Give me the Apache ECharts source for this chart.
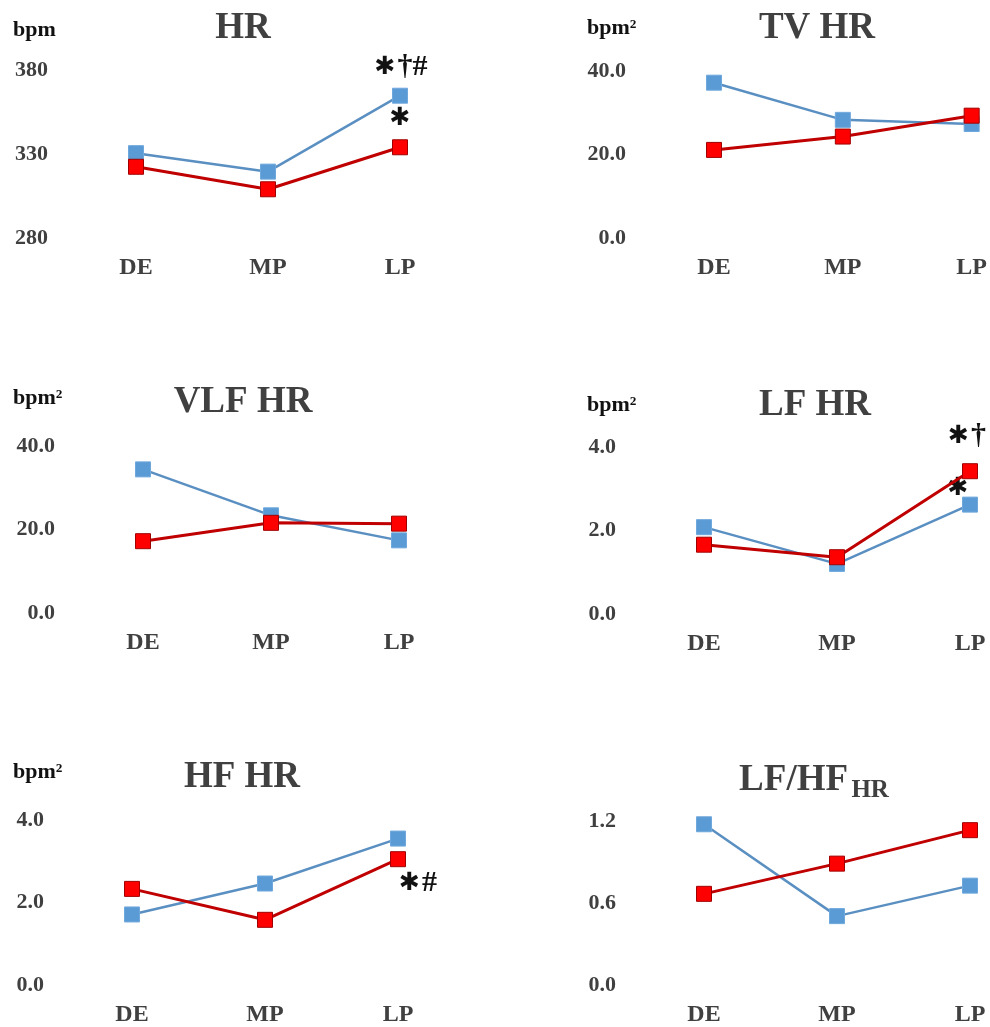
<!DOCTYPE html>
<html>
<head>
<meta charset="utf-8">
<title>Heart rate variability by phase</title>
<script src="https://cdn.jsdelivr.net/npm/echarts@6/dist/echarts.min.js"></script>
<style>
  html, body { margin: 0; padding: 0; background: #fff; }
  #chart { width: 990px; height: 1027px; }
</style>
</head>
<body>
<div id="chart"></div>
<script>
// Phases on the x axis
const categories = ['DE', 'MP', 'LP'];

// HR (bpm)
const hrBlue = [330.5, 319.5, 364.7];
const hrRed = [322.4, 309, 334];
const hrTicks = [280, 380, 50];

// TV HR (bpm²)
const tvBlue = [37.2, 28.3, 27.3];
const tvRed = [21.1, 24.3, 29.3];
const tvTicks = [0, 40, 20];

// VLF HR (bpm²)
const vlfBlue = [34.4, 23.4, 17.4];
const vlfRed = [17.2, 21.6, 21.4];
const vlfTicks = [0, 40, 20];

// LF HR (bpm²)
const lfBlue = [2.08, 1.2, 2.62];
const lfRed = [1.66, 1.36, 3.42];
const lfTicks = [0, 4, 2];

// HF HR (bpm²)
const hfBlue = [1.71, 2.46, 3.55];
const hfRed = [2.33, 1.58, 3.05];
const hfTicks = [0, 4, 2];

// LF/HF HR ratio
const ratioBlue = [1.176, 0.504, 0.727];
const ratioRed = [0.667, 0.888, 1.133];
const ratioTicks = [0, 1.2, 0.6];

// Significance marks at LP: [panel, series colour, marks after the asterisk]
const marks = [
  [0, 'blue', '†#'],
  [0, 'red', ''],
  [3, 'red', '†'],
  [3, 'blue', ''],
  [4, 'red', '#']
];

const SERIF = '"Liberation Serif", "Times New Roman", serif';
const TEXT = '#404040';
const BLUE = '#5B9BD5';
const BLUE_LINE = '#5A8FC2';
const RED = '#FF0000';
const RED_LINE = '#C00000';

const panels = [
  { title: 'HR', unit: 'bpm', blue: hrBlue, red: hrRed, ticks: hrTicks, dec: 0,
    grid: { left: 136, width: 264, top: 70, height: 168 }, titlePos: [243, 28], unitPos: [13, 30] },
  { title: 'TV HR', unit: 'bpm²', blue: tvBlue, red: tvRed, ticks: tvTicks, dec: 1,
    grid: { left: 714, width: 258, top: 71, height: 167 }, titlePos: [817, 28], unitPos: [587, 28] },
  { title: 'VLF HR', unit: 'bpm²', blue: vlfBlue, red: vlfRed, ticks: vlfTicks, dec: 1,
    grid: { left: 143, width: 256, top: 446, height: 167 }, titlePos: [243, 402], unitPos: [13, 398] },
  { title: 'LF HR', unit: 'bpm²', blue: lfBlue, red: lfRed, ticks: lfTicks, dec: 1,
    grid: { left: 704, width: 266, top: 447, height: 167 }, titlePos: [815, 405], unitPos: [587, 405] },
  { title: 'HF HR', unit: 'bpm²', blue: hfBlue, red: hfRed, ticks: hfTicks, dec: 1,
    grid: { left: 132, width: 266, top: 820, height: 168 }, titlePos: [242, 777], unitPos: [13, 772] },
  { title: 'LF/HF', sub: 'HR', unit: '', blue: ratioBlue, red: ratioRed, ticks: ratioTicks, dec: 1,
    grid: { left: 704, width: 266, top: 821, height: 166 }, titlePos: [814, 780], unitPos: null }
];

// Offset of each significance label from its marker centre
const markOffset = {
  '0-blue': [1, -28],
  '0-red': [0, -29],
  '3-red': [-3, -35],
  '3-blue': [-12, -16],
  '4-red': [20, 24]
};

function seriesData(values, panelIdx, colour) {
  return values.map((v, i) => {
    const item = { value: v };
    if (i === categories.length - 1) {
      const m = marks.find(mk => mk[0] === panelIdx && mk[1] === colour);
      if (m) {
        item.label = {
          show: true,
          position: 'inside',
          offset: markOffset[panelIdx + '-' + colour],
          formatter: '{a|✱}' + (m[2] ? '{b|' + m[2] + '}' : ''),
          rich: {
            a: { fontFamily: '"DejaVu Sans", sans-serif', fontWeight: 'bold', fontSize: 25, color: '#111', verticalAlign: 'middle' },
            b: { fontFamily: SERIF, fontWeight: 'bold', fontSize: 30, color: '#111', verticalAlign: 'middle', padding: [0, 0, 0, 2] }
          }
        };
      }
    }
    return item;
  });
}

const grid = [], xAxis = [], yAxis = [], series = [], graphic = [];

panels.forEach((p, i) => {
  grid.push(Object.assign({ containLabel: false }, p.grid));
  xAxis.push({
    type: 'category', gridIndex: i, data: categories, boundaryGap: false,
    axisLine: { show: false }, axisTick: { show: false }, splitLine: { show: false },
    axisLabel: { margin: 18, fontFamily: SERIF, fontWeight: 'bold', fontSize: 24, color: TEXT }
  });
  yAxis.push({
    type: 'value', gridIndex: i, min: p.ticks[0], max: p.ticks[1], interval: p.ticks[2],
    axisLine: { show: false }, axisTick: { show: false }, splitLine: { show: false },
    axisLabel: {
      margin: 88, fontFamily: SERIF, fontWeight: 'bold', fontSize: 22, color: TEXT,
      formatter: v => v.toFixed(p.dec)
    }
  });
  series.push({
    type: 'line', xAxisIndex: i, yAxisIndex: i, data: seriesData(p.blue, i, 'blue'),
    symbol: 'rect', symbolSize: 15,
    lineStyle: { color: BLUE_LINE, width: 2.5 },
    itemStyle: { color: BLUE, borderColor: '#6FA8DC', borderWidth: 1 },
    z: 2, animation: false
  });
  series.push({
    type: 'line', xAxisIndex: i, yAxisIndex: i, data: seriesData(p.red, i, 'red'),
    symbol: 'rect', symbolSize: 15,
    lineStyle: { color: RED_LINE, width: 3 },
    itemStyle: { color: RED, borderColor: '#A00000', borderWidth: 1 },
    z: 3, animation: false
  });

  // Panel title
  if (p.sub) {
    graphic.push({
      type: 'text', x: p.titlePos[0], y: p.titlePos[1],
      style: {
        text: '{m|' + p.title + '} {s|' + p.sub + '}',
        align: 'center', verticalAlign: 'middle',
        rich: {
          m: { fontFamily: SERIF, fontWeight: 'bold', fontSize: 37, fill: TEXT },
          s: { fontFamily: SERIF, fontWeight: 'bold', fontSize: 25, fill: TEXT, padding: [22, 0, 0, 0] }
        }
      }
    });
  } else {
    graphic.push({
      type: 'text', x: p.titlePos[0], y: p.titlePos[1],
      style: {
        text: p.title, align: 'center', verticalAlign: 'middle',
        fontFamily: SERIF, fontWeight: 'bold', fontSize: 37, fill: TEXT
      }
    });
  }

  // Unit label
  if (p.unitPos) {
    graphic.push({
      type: 'text', x: p.unitPos[0], y: p.unitPos[1],
      style: {
        text: p.unit, align: 'left', verticalAlign: 'middle',
        fontFamily: SERIF, fontWeight: 'bold', fontSize: 22, fill: '#111'
      }
    });
  }
});

const chart = echarts.init(document.getElementById('chart'), null, { renderer: 'canvas' });
chart.setOption({
  backgroundColor: '#ffffff',
  animation: false,
  grid, xAxis, yAxis, series, graphic
});
</script>
</body>
</html>
